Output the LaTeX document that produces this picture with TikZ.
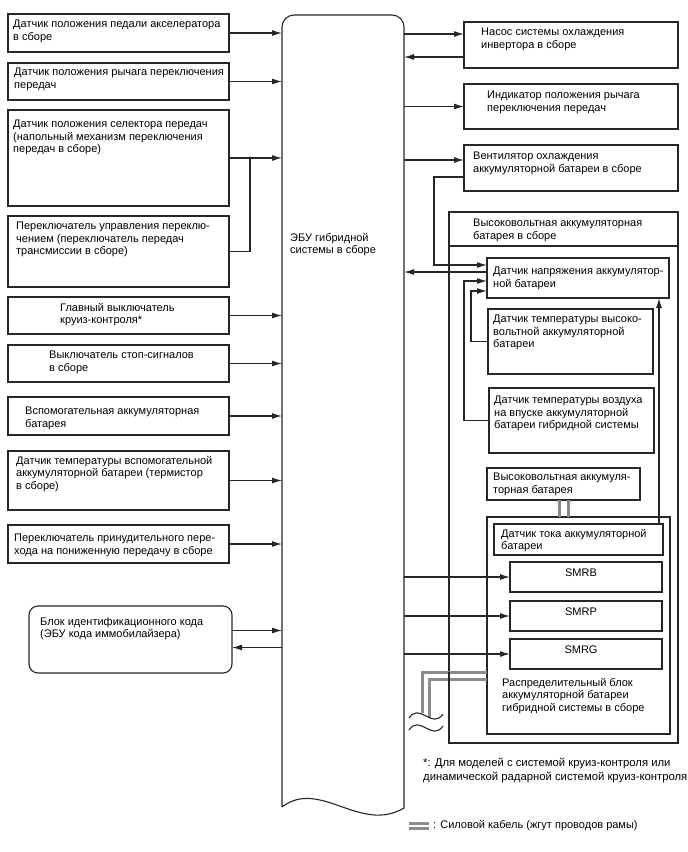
\documentclass[tikz,border=0pt]{standalone}
\usepackage{fontspec}
\setmainfont{Liberation Sans}
\usetikzlibrary{arrows.meta,calc}
\begin{document}
\begin{tikzpicture}[x=1pt,y=-1pt]
\tikzset{
 ln/.style={draw=black!85, line width=1.1pt},
 box/.style={ln, anchor=north west, inner sep=0pt, outer sep=0pt},
 txt/.style={anchor=north west, inner sep=0pt, align=left, font=\fontsize{11}{12.6}\selectfont},
 arr/.style={ln, -{Latex[length=10pt,width=6pt]}},
 cable/.style={draw=black!45, line width=3pt},
}
\useasboundingbox (0,0) rectangle (688,852);
\fill[white] (0,0) rectangle (688,852);

% ECU
\node[inner sep=0pt, outer sep=0pt, anchor=north west, minimum width=122pt, minimum height=793pt] (ecu) at (282,15) {};
\draw[ln] (282,807) -- (282,27) arc[start angle=180, end angle=270, radius=12]
  -- (392,15) arc[start angle=270, end angle=360, radius=12]
  -- (404,808) .. controls (360,834) and (320,778) .. (282,807);
\node[txt] (ecut) at (290,233) {ЭБУ гибридной\\системы в сборе};

% left boxes
\node[box, minimum width=221pt, minimum height=38pt] (l1) at (8,14) {};
\node[box, minimum width=221pt, minimum height=37pt] (l2) at (8,63) {};
\node[box, minimum width=221pt, minimum height=96pt] (l3) at (8,110) {};
\node[box, minimum width=221pt, minimum height=71pt] (l4) at (8,216) {};
\node[box, minimum width=221pt, minimum height=37pt] (l5) at (8,297) {};
\node[box, minimum width=221pt, minimum height=37pt] (l6) at (8,345) {};
\node[box, minimum width=221pt, minimum height=38pt] (l7) at (8,397) {};
\node[box, minimum width=221pt, minimum height=59pt] (l8) at (8,451) {};
\node[box, minimum width=221pt, minimum height=38pt] (l9) at (8,525) {};
\node[box, rounded corners=9pt, minimum width=203pt, minimum height=67pt] (l10) at (29,606) {};

\node[txt] (l1t) at (13,20) {Датчик положения педали акселератора\\в сборе};
\node[txt] (l2t) at (14,68) {Датчик положения рычага переключения\\передач};
\node[txt] (l3t) at (13,120) {Датчик положения селектора передач\\(напольный механизм переключения\\передач в сборе)};
\node[txt] (l4t) at (16,222) {Переключатель управления переклю-\\чением (переключатель передач\\трансмиссии в сборе)};
\node[txt] (l5t) at (60,303) {Главный выключатель\\круиз-контроля*};
\node[txt] (l6t) at (49,351) {Выключатель стоп-сигналов\\в сборе};
\node[txt] (l7t) at (25,407) {Вспомогательная аккумуляторная\\батарея};
\node[txt] (l8t) at (16,456) {Датчик температуры вспомогательной\\аккумуляторной батареи (термистор\\в сборе)};
\node[txt] (l9t) at (14,534) {Переключатель принудительного пере-\\хода на пониженную передачу в сборе};
\node[txt] (l10t) at (40,617) {Блок идентификационного кода\\(ЭБУ кода иммобилайзера)};

% right boxes
\node[box, minimum width=214pt, minimum height=46pt] (r1) at (464,22) {};
\node[box, minimum width=214pt, minimum height=45pt] (r2) at (464,84) {};
\node[box, minimum width=214pt, minimum height=46pt] (r3) at (464,145) {};
\node[box, minimum width=229pt, minimum height=531pt] (hv) at (449,212) {};
\node[box, minimum width=182pt, minimum height=40pt] (vs) at (487,258) {};
\node[box, minimum width=165pt, minimum height=65pt] (thv) at (488,309) {};
\node[box, minimum width=165pt, minimum height=65pt] (ta) at (489,388) {};
\node[box, minimum width=153pt, minimum height=32pt] (hvb) at (487,468) {};
\node[box, minimum width=183pt, minimum height=217pt] (db) at (487,517) {};
\node[box, minimum width=169pt, minimum height=31pt] (cs) at (494,524) {};
\node[box, minimum width=152pt, minimum height=30pt] (smrb) at (510,562) {};
\node[box, minimum width=152pt, minimum height=30pt] (smrp) at (510,601) {};
\node[box, minimum width=152pt, minimum height=30pt] (smrg) at (510,639) {};
\coordinate (hvd) at (0,246);
\draw[ln] (hv.west |- hvd) -- (hv.east |- hvd);

\node[txt] (r1t) at (481,28) {Насос системы охлаждения\\инвертора в сборе};
\node[txt] (r2t) at (487,91) {Индикатор положения рычага\\переключения передач};
\node[txt] (r3t) at (473,152) {Вентилятор охлаждения\\аккумуляторной батареи в сборе};
\node[txt] (hvt) at (473,219) {Высоковольтная аккумуляторная\\батарея в сборе};
\node[txt] (vst) at (493,267) {Датчик напряжения аккумулятор-\\ной батареи};
\node[txt] (thvt) at (493,315) {Датчик температуры высоко-\\вольтной аккумуляторной\\батареи};
\node[txt] (tat) at (494,396) {Датчик температуры воздуха\\на впуске аккумуляторной\\батареи гибридной системы};
\node[txt] (hvbt) at (493,473) {Высоковольтная аккумуля-\\торная батарея};
\node[txt] (cst) at (501,529) {Датчик тока аккумуляторной\\батареи};
\node[txt, anchor=center] (smrbt) at (581,573) {SMRB};
\node[txt, anchor=center] (smrpt) at (581,612) {SMRP};
\node[txt, anchor=center] (smrgt) at (581,650) {SMRG};
\node[txt] (dbt) at (502,678) {Распределительный блок\\аккумуляторной батареи\\гибридной системы в сборе};

\node[txt, font=\fontsize{11.3}{13.5}\selectfont] (fn) at (423,758) {*: Для моделей с системой круиз-контроля или\\динамической радарной системой круиз-контроля};
\node[txt] (lg) at (433,820) {: Силовой кабель (жгут проводов рамы)};

% left connectors
\foreach \b in {l1,l2,l3,l5,l6,l7,l8,l9}
  \draw[arr] (\b.east) -- (\b.east -| ecu.west);
\coordinate (j) at (250,158);
\draw[ln] (l4.east) -| (j);
\fill[black!85] (j) circle (1.7);
\coordinate (l10a) at ($(l10.east)+(0,-9)$);
\coordinate (l10b) at ($(l10.east)+(0,8)$);
\draw[arr] (l10a) -- (l10a -| ecu.west);
\draw[arr] (l10b -| ecu.west) -- (l10b);

% right connectors
\coordinate (r1a) at ($(r1.west)+(0,-11)$);
\coordinate (r1b) at ($(r1.west)+(0,12)$);
\draw[arr] (r1a -| ecu.east) -- (r1a);
\draw[arr] (r1b) -- (r1b -| ecu.east);
\draw[arr] (r2.west -| ecu.east) -- (r2.west);
\coordinate (r3a) at ($(r3.west)+(0,-8)$);
\coordinate (r3b) at ($(r3.west)+(0,9)$);
\draw[arr] (r3a -| ecu.east) -- (r3a);
\coordinate (xc) at (434,0);
\coordinate (xa) at (464,0);
\coordinate (xb) at (471,0);
\coordinate (xd) at (659,0);
\coordinate (vsi) at ($(vs.west)+(0,-13)$);
\coordinate (vso) at ($(vs.west)+(0,-6)$);
\coordinate (vsb) at ($(vs.west)+(0,3)$);
\coordinate (vsc) at ($(vs.west)+(0,13)$);
\draw[arr] (r3b) -- (r3b -| xc) -- (xc |- vsi) -- (vsi);
\draw[arr] (vso) -- (vso -| ecu.east);
\draw[arr] (ta.west) -- (ta.west -| xa) -- (xa |- vsb) -- (vsb);
\draw[arr] (thv.west) -- (thv.west -| xb) -- (xb |- vsc) -- (vsc);
\draw[arr] (xd |- cs.north) -- (xd |- vs.south);
\foreach \b in {smrb,smrp,smrg}
  \draw[arr] (\b.west -| ecu.east) -- (\b.west);

% power cables
\draw[cable] ([xshift=-4.5pt]hvb.south) -- ([xshift=-4.5pt]hvb.south |- db.north);
\draw[cable] ([xshift=4.5pt]hvb.south) -- ([xshift=4.5pt]hvb.south |- db.north);
\coordinate (ca) at (422,713);
\coordinate (cb) at (429,718);
\coordinate (cya) at (0,672);
\coordinate (cyb) at (0,679);
\draw[cable] (db.west |- cya) -| (ca);
\draw[cable] (db.west |- cyb) -| (cb);
\draw[ln] (hv.west |- cya) -- (hv.west |- cb);
\draw[ln] (409,718) .. controls (420,702) and (432,730) .. (443,714);
\draw[ln] (409,730) .. controls (420,714) and (432,742) .. (443,726);

% legend cable
\draw[cable] (409,823) -- (429,823);
\draw[cable] (409,828.5) -- (429,828.5);
\end{tikzpicture}
\end{document}
